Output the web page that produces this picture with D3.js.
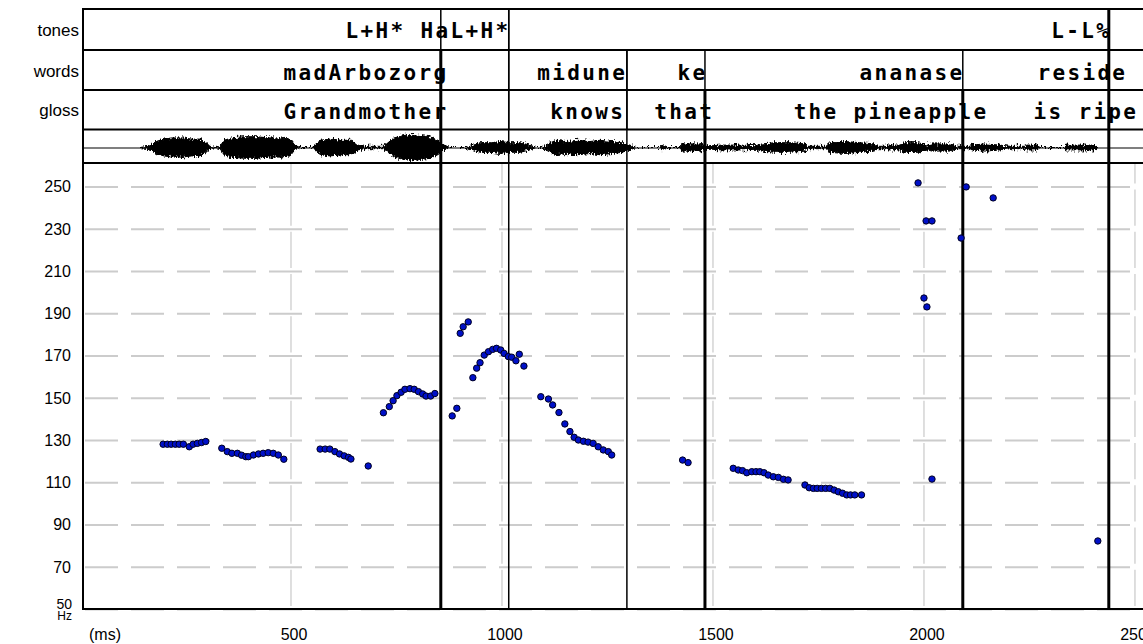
<!DOCTYPE html>
<html>
<head>
<meta charset="utf-8">
<script src="https://cdn.jsdelivr.net/npm/d3@7"></script>
<style>
	body { margin: 0; background: #fff; }
	svg { display: block; }
	.tierText { font-family: "DejaVu Sans Mono", monospace; font-weight: bold; font-size: 21px; letter-spacing: 2.35px; }
	.axisText { font-family: "Liberation Sans", Arial, sans-serif; font-size: 16px; }
</style>
</head>
<body>
<div id="chart"></div>
<script>
// tiers
var tierNames = ["tones", "words", "gloss"];
var toneLabels = ["L+H* Ha", "L+H*", "L-L%"];
var toneEnds = [870, 1012, 2436];
var toneBounds = [855, 1016, 2438];
var wordLabels = ["madArbozorg", "midune", "ke", "ananase", "reside"];
var wordEnds = [865, 1289, 1479, 2088, 2474];
var wordBounds = [855, 1016, 1296, 1481, 2092, 2438];
var glossLabels = ["Grandmother", "knows", "that", "the pineapple", "is ripe"];
var glossEnds = [865, 1284, 1495, 2145, 2500];

// boundaries running down through the pitch panel
var breakMs = [855, 1016, 1296, 1481, 2092, 2438];
var breakHeavy = [true, false, false, true, true, true];
var breakFromTier = [1, 0, 1, 2, 2, 0];

// axis ticks
var xTicks = [500, 1000, 1500, 2000, 2500];
var yTicks = [50, 70, 90, 110, 130, 150, 170, 190, 210, 230, 250];

// waveform envelope: time (ms) and half amplitude
var waveMs = [142, 161, 171, 180, 199, 218, 242, 265, 284, 299, 308, 322,
	332, 341, 360, 389, 417, 446, 474, 498, 509, 521,
	550, 559, 569, 592, 621, 645, 659, 673, 720,
	730, 744, 768, 787, 806, 829, 848, 863, 877,
	915, 929, 948, 976, 995, 1019, 1043, 1066, 1081,
	1095, 1109, 1128, 1152, 1180, 1209, 1232, 1261, 1284, 1303, 1318,
	1374, 1379, 1389, 1422, 1427, 1446, 1469, 1483, 1498, 1521, 1564, 1602, 1616, 1647, 1682,
	1720, 1725, 1768, 1777, 1813, 1848, 1882, 1891, 1910, 1915, 1943, 1953, 1986, 2009, 2019,
	2062, 2081, 2109, 2114, 2145, 2180, 2204, 2239, 2244, 2268, 2275, 2332, 2336, 2405, 2412];
var waveAmp = [0, 1, 2, 5, 7, 8, 8, 7, 7, 4, 1, 0,
	1, 6, 8, 9, 9, 8, 8, 7, 2, 0,
	0, 2, 6, 7, 6, 6, 2, 1, 1,
	4, 8, 10, 11, 10, 9, 6, 2, 0,
	0, 1.5, 4, 4, 5, 4, 4, 2, 0,
	0, 3, 6, 5, 6, 5, 6, 5, 4, 2, 0,
	0, 2, 0, 0, 3, 3, 3, 1.5, 1.5, 2, 2, 1.5, 3, 4, 4,
	3, 1, 1, 4, 5, 4, 3, 1, 1, 2, 2, 4, 4, 2, 3,
	3, 1, 1, 2, 3, 2, 1, 1, 2, 2, 0, 0, 2, 2, 0];

// pitch track
var pitchMs = [197, 207, 216, 226, 235, 245, 259, 268, 278, 288, 298,
	336, 349, 360, 373, 383, 393, 399, 411, 423, 434, 446, 458, 470, 483,
	569, 581, 592, 604, 615, 626, 636, 642,
	683,
	719, 733, 742, 751, 761, 770, 782, 792, 802, 812, 820, 831, 841,
	882, 893, 901, 908, 920,
	931, 940, 948, 958, 968, 978, 987, 997, 1005, 1015, 1023, 1033, 1041, 1052,
	1092, 1110, 1120, 1135, 1149, 1161, 1171, 1181, 1193, 1204, 1216, 1228, 1240, 1252, 1260,
	1428, 1441,
	1548, 1560, 1570, 1580, 1592, 1602, 1611, 1621, 1631, 1643, 1655, 1667, 1678,
	1718, 1728, 1738, 1747, 1757, 1767, 1777, 1787, 1797, 1807, 1817, 1826, 1836, 1852,
	1986, 2005, 2019, 2000, 2007, 2019, 2088, 2100, 2164, 2412];
var pitchHz = [128, 128, 128, 128, 128, 128, 126.8, 128, 128.4, 128.8, 129.3,
	126.1, 124.5, 123.7, 123.7, 122.8, 122.1, 122.1, 122.9, 123.4, 123.7, 124, 123.7, 122.9, 120.9,
	125.7, 125.7, 125.7, 124.5, 123.4, 122.5, 121.8, 121,
	117.7,
	142.9, 145.8, 148.6, 151, 152.6, 154, 154.3, 154, 152.9, 151.8, 150.8, 150.8, 152,
	141.4, 145, 180.5, 183.6, 185.9,
	159.5, 164, 166.6, 170.2, 171.8, 172.9, 173.4, 172.6, 171, 169.5, 169.2, 167.5, 170.6, 165,
	150.5, 149.4, 146.6, 143, 137.6, 134, 131.3, 130, 129.4, 129, 128.4, 126.8, 125.3, 124.5, 122.9,
	120.5, 119.3,
	116.6, 115.8, 115.5, 114.5, 115, 115, 115, 114.5, 113.4, 112.6, 112.3, 111.4, 111.1,
	108.7, 107.4, 107.1, 107.1, 107.1, 107.1, 107.1, 106.3, 105.5, 104.8, 104, 104, 104, 104,
	251.7, 233.7, 233.7, 197.2, 193, 111.5, 225.6, 249.8, 244.6, 82.2];

var width = 1143,
	height = 644,
	frameLeft = 83,
	rows = [9, 50, 90, 129.5, 163],
	waveMid = 147.5,
	plotBottom = 609;

var svg = d3.select("#chart").append("svg")
	.attr("width", width)
	.attr("height", height);

// rough edge for the waveform bursts
var filter = svg.append("defs").append("filter")
	.attr("id", "jag")
	.attr("x", "-2%").attr("y", "-60%")
	.attr("width", "104%").attr("height", "220%");
filter.append("feTurbulence")
	.attr("type", "fractalNoise")
	.attr("baseFrequency", "0.7 0.35")
	.attr("numOctaves", 1)
	.attr("seed", 4)
	.attr("result", "noise");
filter.append("feColorMatrix")
	.attr("in", "noise")
	.attr("type", "matrix")
	.attr("values", "0 0 0 0 0.5  0 1 0 0 0  0 0 1 0 0  0 0 0 0 1")
	.attr("result", "shift");
filter.append("feDisplacementMap")
	.attr("in", "SourceGraphic")
	.attr("in2", "shift")
	.attr("scale", 9)
	.attr("xChannelSelector", "R")
	.attr("yChannelSelector", "G");

var x = d3.scaleLinear().domain([0, 2520]).range([80, 1143.4]);
var y = d3.scaleLinear().domain([50, 250]).range([plotBottom, 186.5]);
var amp = d3.scaleLinear().domain([0, 10]).range([0, 12]);

// grid
var gridStep = y(50) - y(70);
svg.append("g").selectAll("line").data(xTicks).enter().append("line")
	.attr("x1", function (d) { return x(d); })
	.attr("x2", function (d) { return x(d); })
	.attr("y1", plotBottom)
	.attr("y2", rows[4])
	.attr("stroke", "#d4d4d4")
	.attr("stroke-width", 1.5)
	.attr("stroke-dasharray", (gridStep - 6) + "," + 6)
	.attr("stroke-dashoffset", gridStep - 3);

svg.append("g").selectAll("line").data(yTicks).enter().append("line")
	.attr("x1", frameLeft + 2)
	.attr("x2", width + 10)
	.attr("y1", function (d) { return y(d) + 0.5; })
	.attr("y2", function (d) { return y(d) + 0.5; })
	.attr("stroke", "#cccccc")
	.attr("stroke-width", 2)
	.attr("stroke-dasharray", "33,13");

// tier texts
function drawTier(labels, ends, baseY) {
	svg.append("g").selectAll("text").data(labels).enter().append("text")
		.attr("class", "tierText")
		.attr("x", function (d, i) { return x(ends[i]) + 3.4; })
		.attr("y", baseY)
		.attr("text-anchor", "end")
		.text(function (d) { return d; });
}
drawTier(toneLabels, toneEnds, 38);
drawTier(wordLabels, wordEnds, 80);
drawTier(glossLabels, glossEnds, 119);

// tier names
svg.append("g").selectAll("text").data(tierNames).enter().append("text")
	.attr("class", "axisText")
	.style("font-size", "17px")
	.attr("x", 79)
	.attr("y", function (d, i) { return [36, 77, 116][i]; })
	.attr("text-anchor", "end")
	.text(function (d) { return d; });

// waveform
var wave = d3.range(waveMs.length).map(function (i) { return [waveMs[i], waveAmp[i]]; });
svg.append("path")
	.datum(wave)
	.attr("fill", "#000")
	.attr("stroke", "#000")
	.attr("stroke-width", 1)
	.attr("filter", "url(#jag)")
	.attr("d", d3.area()
		.x(function (d) { return x(d[0]); })
		.y0(function (d) { return waveMid + amp(d[1]); })
		.y1(function (d) { return waveMid - amp(d[1]); }));

svg.append("line")
	.attr("x1", frameLeft).attr("x2", width + 10)
	.attr("y1", waveMid + 0.5).attr("y2", waveMid + 0.5)
	.attr("stroke", "#000").attr("stroke-width", 1.2);

// tier boundaries (thin)
function drawBounds(list, top, bottom) {
	svg.append("g").selectAll("line").data(list).enter().append("line")
		.attr("x1", function (d) { return x(d); })
		.attr("x2", function (d) { return x(d); })
		.attr("y1", top)
		.attr("y2", bottom)
		.attr("stroke", "#000")
		.attr("stroke-width", 1.5);
}
drawBounds(toneBounds, rows[0], rows[1]);
drawBounds(wordBounds, rows[1], rows[2]);
drawBounds(wordBounds, rows[2], rows[3]);

// long boundaries
svg.append("g").selectAll("line").data(breakMs).enter().append("line")
	.attr("x1", function (d) { return x(d); })
	.attr("x2", function (d) { return x(d); })
	.attr("y1", function (d, i) { return rows[breakFromTier[i]]; })
	.attr("y2", plotBottom)
	.attr("stroke", "#000")
	.attr("stroke-width", function (d, i) { return breakHeavy[i] ? 3 : 1.5; });

// frame lines
svg.append("g").selectAll("line").data(rows.concat([plotBottom])).enter().append("line")
	.attr("x1", frameLeft - 1)
	.attr("x2", width + 10)
	.attr("y1", function (d) { return d; })
	.attr("y2", function (d) { return d; })
	.attr("stroke", "#000")
	.attr("stroke-width", 2);

svg.append("line")
	.attr("x1", frameLeft).attr("x2", frameLeft)
	.attr("y1", rows[0] - 1).attr("y2", plotBottom + 1)
	.attr("stroke", "#000").attr("stroke-width", 2);

// pitch points
svg.append("g").selectAll("circle").data(pitchMs).enter().append("circle")
	.attr("cx", function (d) { return x(d); })
	.attr("cy", function (d, i) { return y(pitchHz[i]); })
	.attr("r", 3.2)
	.attr("fill", "#0010c8")
	.attr("stroke", "#000020")
	.attr("stroke-width", 1);

// y labels
svg.append("g").selectAll("text").data(yTicks.slice(1)).enter().append("text")
	.attr("class", "axisText")
	.attr("x", 71)
	.attr("y", function (d) { return y(d); })
	.attr("dy", "0.36em")
	.attr("text-anchor", "end")
	.text(function (d) { return d; });

svg.append("text")
	.attr("class", "axisText")
	.style("font-size", "14px")
	.attr("x", 72).attr("y", 609)
	.attr("text-anchor", "end")
	.text(yTicks[0]);
svg.append("text")
	.attr("class", "axisText")
	.style("font-size", "12px")
	.attr("x", 72).attr("y", 620)
	.attr("text-anchor", "end")
	.text("Hz");

// x labels
svg.append("text")
	.attr("class", "axisText")
	.style("font-size", "16px")
	.attr("x", 89).attr("y", 640)
	.text("(ms)");
svg.append("g").selectAll("text").data(xTicks).enter().append("text")
	.attr("class", "axisText")
	.style("font-size", "16px")
	.attr("x", function (d) { return x(d) + 3; })
	.attr("y", 640)
	.attr("text-anchor", "middle")
	.text(function (d) { return d; });
</script>
</body>
</html>
